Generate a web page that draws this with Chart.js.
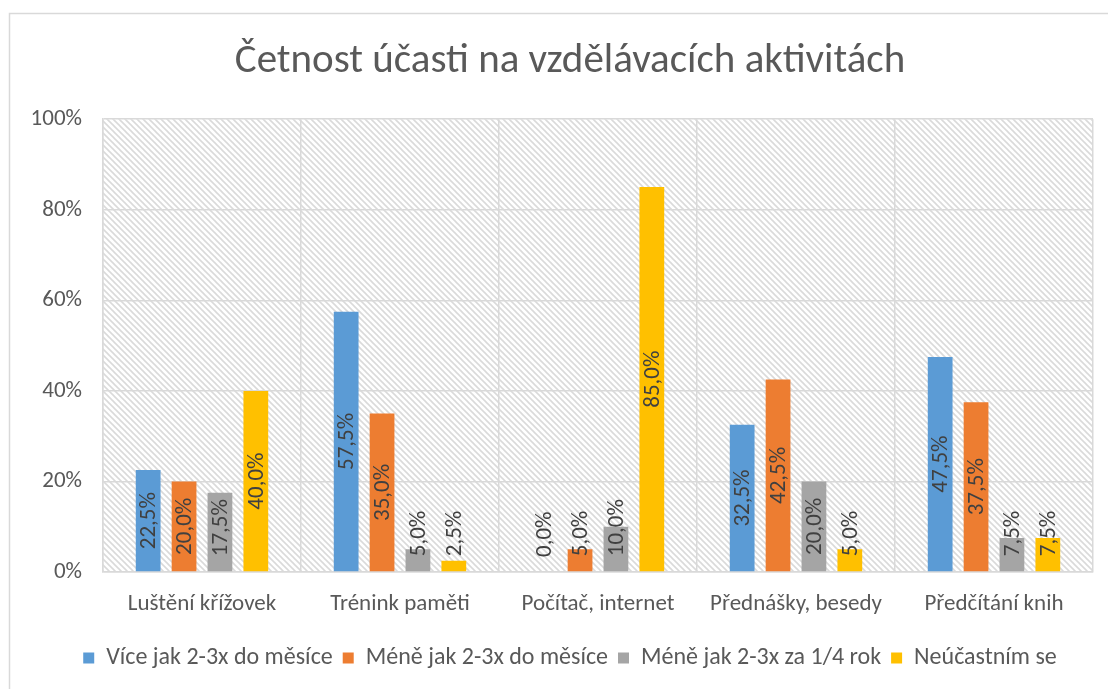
<!DOCTYPE html>
<html>
<head>
<meta charset="utf-8">
<script src="https://cdn.jsdelivr.net/npm/chart.js@4/dist/chart.umd.min.js"></script>
<style>
  html, body { margin: 0; padding: 0; background: #fff; }
  #wrap { width: 1108px; height: 689px; }
</style>
</head>
<body>
<div id="wrap"><canvas id="myChart" width="1108" height="689"></canvas></div>
<script>
const categories = ["Luštění křížovek", "Trénink paměti", "Počítač, internet", "Přednášky, besedy", "Předčítání knih"];
const seriesNames = ["Více jak 2-3x do měsíce", "Méně jak 2-3x do měsíce", "Méně jak 2-3x za 1/4 rok", "Neúčastním se"];
const viceMesic = [22.5, 57.5, 0.0, 32.5, 47.5];
const meneMesic = [20.0, 35.0, 5.0, 42.5, 37.5];
const meneCtvrtrok = [17.5, 5.0, 10.0, 20.0, 7.5];
const neucastnim = [40.0, 2.5, 85.0, 5.0, 7.5];
const yTicks = [0, 20, 40, 60, 80, 100];

const colors = ["#5B9BD5", "#ED7D31", "#A5A5A5", "#FFC000"];
const fontFam = "Carlito, Lato, 'Noto Sans', sans-serif";
const gridColor = "#D9D9D9";

function fmt(v) {
  return v.toFixed(1).replace(".", ",") + "%";
}

function makeHatch() {
  const c = document.createElement("canvas");
  c.width = 6; c.height = 6;
  const g = c.getContext("2d");
  g.fillStyle = "#ffffff";
  g.fillRect(0, 0, 6, 6);
  g.strokeStyle = "#DADADA";
  g.lineWidth = 1.6;
  for (let k = -6; k <= 6; k += 6) {
    g.beginPath();
    g.moveTo(k - 1, -1);
    g.lineTo(k + 7, 7);
    g.stroke();
  }
  return c;
}

const backdrop = {
  id: "backdrop",
  afterLayout(chart) {
    // let the y tick labels use the space left of the axis too
    chart.scales.y.left = 0;
  },
  beforeDraw(chart) {
    const ctx = chart.ctx;
    const a = chart.chartArea;
    ctx.save();
    ctx.strokeStyle = gridColor;
    ctx.lineWidth = 1.5;
    ctx.strokeRect(9.5, 13.5, 1300, 900);
    ctx.fillStyle = ctx.createPattern(makeHatch(), "repeat");
    ctx.fillRect(a.left, a.top, a.right - a.left, a.bottom - a.top);
    ctx.restore();
  }
};

const barLabels = {
  id: "barLabels",
  afterDatasetsDraw(chart) {
    const ctx = chart.ctx;
    ctx.save();
    ctx.font = "23px " + fontFam;
    ctx.fillStyle = "#404040";
    ctx.textAlign = "center";
    ctx.textBaseline = "middle";
    chart.data.datasets.forEach((ds, i) => {
      const meta = chart.getDatasetMeta(i);
      meta.data.forEach((el, j) => {
        const p = el.getProps(["x", "y", "base"], true);
        const txt = fmt(ds.data[j]);
        const w = ctx.measureText(txt).width;
        const mid = (p.y + p.base) / 2;
        const c = Math.min(mid, p.base - 15 - w / 2);
        ctx.save();
        ctx.translate(p.x, c);
        ctx.rotate(-Math.PI / 2);
        ctx.fillText(txt, 0, 1);
        ctx.restore();
      });
    });
    ctx.restore();
  }
};

const allSeries = [viceMesic, meneMesic, meneCtvrtrok, neucastnim];
const datasets = allSeries.map((d, i) => ({
  label: seriesNames[i],
  data: d,
  backgroundColor: colors[i],
  borderWidth: 0,
  categoryPercentage: 0.725,
  barPercentage: 0.69
}));

const ctx = document.getElementById("myChart").getContext("2d");
const myChart = new Chart(ctx, {
  type: "bar",
  data: { labels: categories, datasets: datasets },
  options: {
    responsive: false,
    animation: false,
    layout: { padding: { left: 47, right: 15, top: 0, bottom: 9 } },
    plugins: {
      title: {
        display: true,
        text: "Četnost účasti na vzdělávacích aktivitách",
        color: "#595959",
        font: { family: fontFam, size: 41, weight: "normal", lineHeight: 1.2 },
        padding: { top: 37, bottom: 33 }
      },
      legend: {
        position: "bottom",
        labels: {
          color: "#595959",
          font: { family: fontFam, size: 24 },
          boxWidth: 11,
          boxHeight: 11,
          padding: 10
        }
      },
      tooltip: { enabled: false }
    },
    scales: {
      x: {
        grid: { color: gridColor, lineWidth: 1.5, drawTicks: false, offset: true },
        border: { color: gridColor, width: 1.5 },
        ticks: { color: "#595959", font: { family: fontFam, size: 23 }, padding: 18 },
        afterFit(scale) { scale.height = 64; }
      },
      y: {
        min: 0,
        max: 100,
        grid: { color: gridColor, lineWidth: 1.5, drawTicks: false },
        border: { color: gridColor, width: 1.5 },
        afterBuildTicks(scale) { scale.ticks = yTicks.map(v => ({ value: v })); },
        ticks: {
          color: "#595959",
          font: { family: fontFam, size: 23 },
          padding: 21,
          callback: v => v + "%"
        },
        afterFit(scale) { scale.width = 56; }
      }
    }
  },
  plugins: [backdrop, barLabels]
});
</script>
</body>
</html>
